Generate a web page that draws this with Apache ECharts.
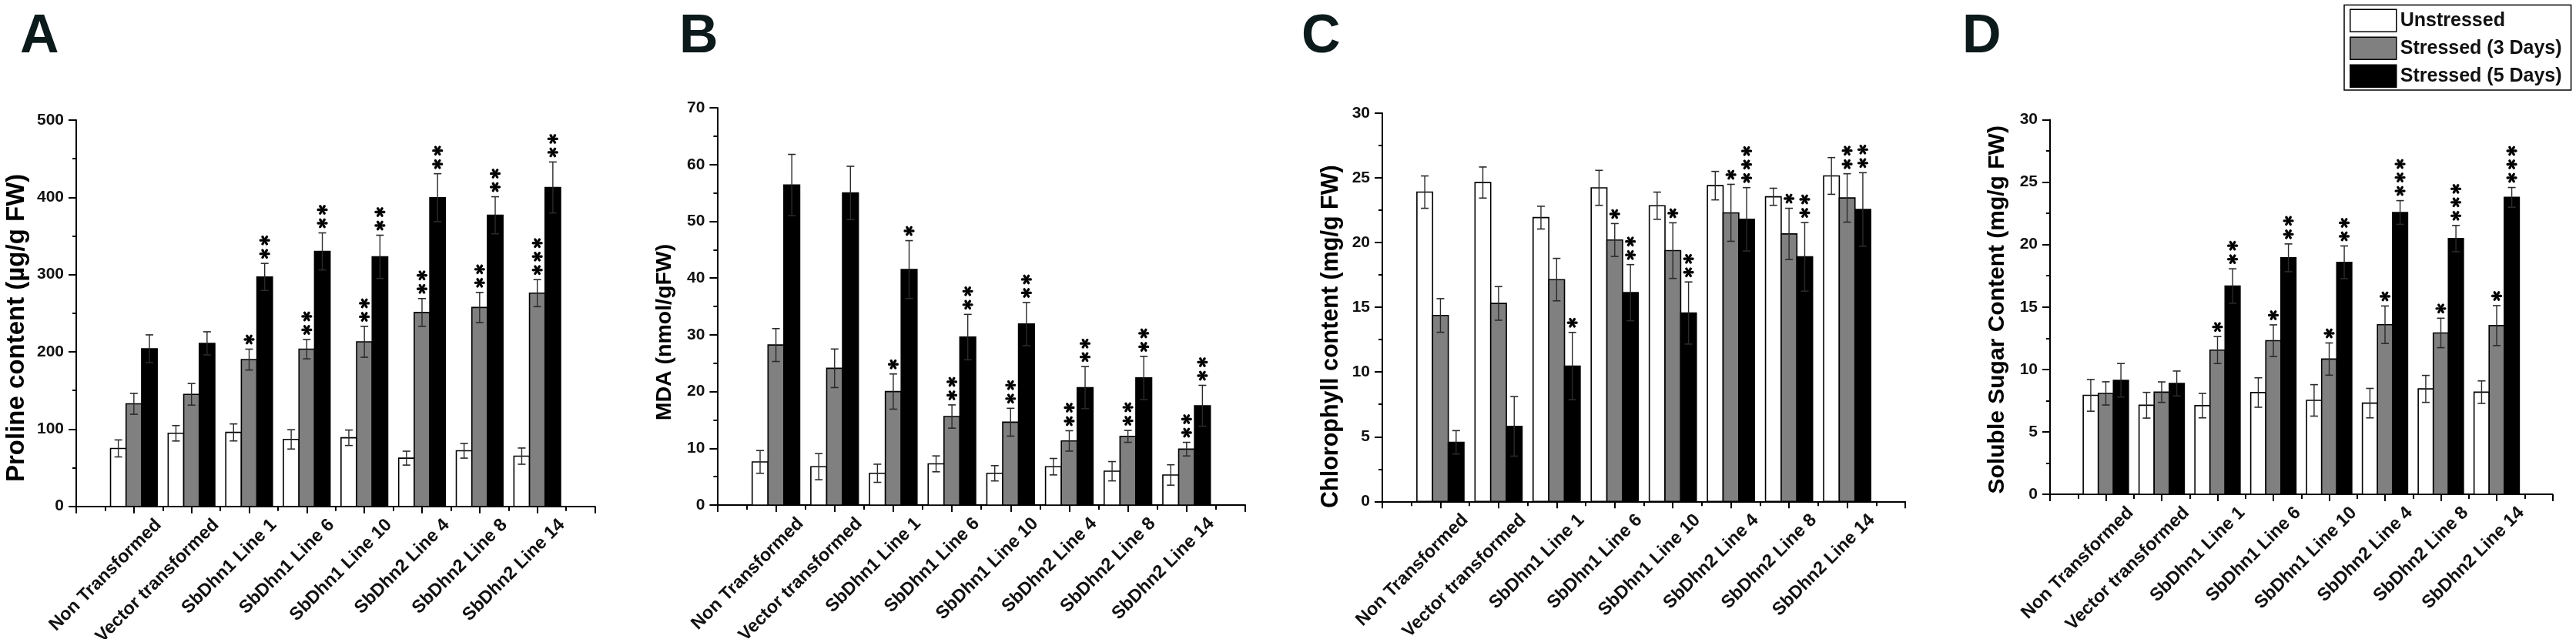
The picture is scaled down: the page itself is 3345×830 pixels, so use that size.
<!DOCTYPE html>
<html>
<head>
<meta charset="utf-8">
<script src="https://cdn.jsdelivr.net/npm/echarts@6/dist/echarts.min.js"></script>
<style>
html,body{margin:0;padding:0;background:#fff;}
#chart{width:3345px;height:830px;}
</style>
</head>
<body>
<div id="chart"></div>
<script>
// ---------------- DATA ----------------
const categories = ['Non Transformed','Vector transformed','SbDhn1 Line 1','SbDhn1 Line 6','SbDhn1 Line 10','SbDhn2 Line 4','SbDhn2 Line 8','SbDhn2 Line 14'];
const seriesNames = ['Unstressed','Stressed (3 Days)','Stressed (5 Days)'];

// Panel A: Proline content (µg/g FW)
const prolineUnstressed = [75, 94.6, 95.7, 86.7, 88.8, 62.4, 71.9, 65];
const prolineUnstressedErr = [11, 10, 11, 12.5, 10, 9, 9.5, 10.5];
const prolineStress3 = [132.7, 145, 190, 203.5, 213, 251, 257.4, 276];
const prolineStress3Err = [13.5, 14, 13.5, 12.5, 20, 18, 19.5, 17.5];
const prolineStress5 = [204, 211, 297, 330, 323, 399.6, 376.8, 412.8];
const prolineStress5Err = [18, 15, 17.5, 24, 28, 31, 24, 33];
const prolineStars3 = [0, 0, 1, 2, 2, 2, 2, 3];
const prolineStars5 = [0, 0, 2, 2, 2, 2, 2, 2];

// Panel B: MDA (nmol/g FW)
const mdaUnstressed = [7.6, 6.76, 5.6, 7.26, 5.6, 6.76, 5.96, 5.3];
const mdaUnstressedErr = [2.0, 2.3, 1.6, 1.4, 1.35, 1.45, 1.7, 1.8];
const mdaStress3 = [28.2, 24.1, 20.0, 15.6, 14.6, 11.3, 12.1, 9.85];
const mdaStress3Err = [2.9, 3.4, 3.1, 2.05, 2.45, 1.8, 1.05, 1.2];
const mdaStress5 = [56.4, 55.0, 41.5, 29.6, 31.9, 20.7, 22.4, 17.5];
const mdaStress5Err = [5.4, 4.7, 5.1, 4.0, 3.8, 3.7, 3.8, 3.6];
const mdaStars3 = [0, 0, 1, 2, 2, 2, 2, 2];
const mdaStars5 = [0, 0, 1, 2, 2, 2, 2, 2];

// Panel C: Chlorophyll content (mg/g FW)
const chlUnstressed = [23.9, 24.64, 21.93, 24.23, 22.85, 24.4, 23.54, 25.15];
const chlUnstressedErr = [1.25, 1.2, 0.88, 1.35, 1.05, 1.1, 0.66, 1.42];
const chlStress3 = [14.37, 15.3, 17.14, 20.2, 19.38, 22.3, 20.67, 23.45];
const chlStress3Err = [1.3, 1.3, 1.64, 1.27, 2.15, 2.2, 1.98, 1.87];
const chlStress5 = [4.57, 5.8, 10.46, 16.13, 14.56, 21.8, 18.9, 22.56];
const chlStress5Err = [0.9, 2.3, 2.6, 2.17, 2.4, 2.45, 2.65, 2.84];
const chlStars3 = [0, 0, 0, 1, 1, 1, 1, 2];
const chlStars5 = [0, 0, 1, 2, 2, 3, 2, 2];

// Panel D: Soluble Sugar Content (mg/g FW)
const sugarUnstressed = [7.92, 7.13, 7.1, 8.15, 7.52, 7.3, 8.44, 8.18];
const sugarUnstressedErr = [1.27, 1.03, 0.98, 1.18, 1.26, 1.18, 1.08, 0.9];
const sugarStress3 = [8.08, 8.18, 11.55, 12.3, 10.83, 13.58, 12.92, 13.51];
const sugarStress3Err = [0.93, 0.82, 1.08, 1.27, 1.29, 1.5, 1.18, 1.6];
const sugarStress5 = [9.13, 8.87, 16.68, 18.94, 18.58, 22.57, 20.48, 23.78];
const sugarStress5Err = [1.34, 1.0, 1.38, 1.11, 1.31, 0.95, 1.05, 0.79];
const sugarStars3 = [0, 0, 1, 1, 1, 1, 1, 1];
const sugarStars5 = [0, 0, 2, 2, 2, 3, 3, 3];

const noStars = [0, 0, 0, 0, 0, 0, 0, 0];

// axis scales
const yMax = [500, 70, 30, 30];
const yInterval = [100, 10, 5, 5];
const yTitles = ['Proline content (µg/g FW)', 'MDA (nmol/gFW)', 'Chlorophyll content (mg/g FW)', 'Soluble Sugar Content (mg/g FW)'];
const panelLetters = ['A', 'B', 'C', 'D'];

// ---------------- LAYOUT / STYLE ----------------
const FONT = '"Liberation Sans", Arial, Helvetica, sans-serif';
const layouts = [
  {left: 99,     right: 772.5,  top: 156,   bottom: 657.7, letterX: 26,   nameGap: 60.5, nameSize: 33,   namePad: 38},
  {left: 931.4,  right: 1617,   top: 140.1, bottom: 656,   letterX: 882,  nameGap: 54,   nameSize: 28.5, namePad: 67},
  {left: 1795,   right: 2474,   top: 147,   bottom: 651.3, letterX: 1690, nameGap: 51,   nameSize: 30.5, namePad: 76},
  {left: 2662,   right: 3314.5, top: 155.5, bottom: 642,   letterX: 2548, nameGap: 53,   nameSize: 30,   namePad: 7}
];
const BAR_W = 0.27;               // bar width in category units
const OFFSETS = [-0.27, 0, 0.27]; // group offsets in category units
const FILLS = ['#ffffff', '#808080', '#000000'];
const LABEL_DX = 32, LABEL_DY = 20.5, LABEL_SIZE = 23.5;

const panelData = [
  [[prolineUnstressed, prolineUnstressedErr, noStars], [prolineStress3, prolineStress3Err, prolineStars3], [prolineStress5, prolineStress5Err, prolineStars5]],
  [[mdaUnstressed, mdaUnstressedErr, noStars], [mdaStress3, mdaStress3Err, mdaStars3], [mdaStress5, mdaStress5Err, mdaStars5]],
  [[chlUnstressed, chlUnstressedErr, noStars], [chlStress3, chlStress3Err, chlStars3], [chlStress5, chlStress5Err, chlStars5]],
  [[sugarUnstressed, sugarUnstressedErr, noStars], [sugarStress3, sugarStress3Err, sugarStars3], [sugarStress5, sugarStress5Err, sugarStars5]]
];

function f(n) { return n.toFixed(2); }
function starPath(cx, cy, r) {
  let d = '';
  for (let k = 0; k < 6; k++) {
    const a = k * Math.PI / 3;
    const dx = Math.cos(a), dy = Math.sin(a), px = -dy, py = dx;
    const w = 0.3 * r;
    const p = (s, t) => f(cx + dx * s * r + px * t) + ' ' + f(cy + dy * s * r + py * t);
    d += 'M' + f(cx) + ' ' + f(cy) +
         ' C' + p(0.3, w) + ' ' + p(1.08, w) + ' ' + p(0.92, 0) +
         ' C' + p(1.08, -w) + ' ' + p(0.3, -w) + ' ' + f(cx) + ' ' + f(cy) + ' Z ';
  }
  return d;
}

function makeRender(cond) {
  return function (params, api) {
    const x = api.value(0) + OFFSETS[cond];
    const m = api.value(1), e = api.value(2), s = api.value(3);
    const top = api.coord([x, m]);
    const base = api.coord([x, 0]);
    const bw = api.size([BAR_W, 0])[0];
    const hi = api.coord([x, m + e]);
    const lo = api.coord([x, m - e]);
    const cap = 5;
    const children = [
      {type: 'rect', shape: {x: top[0] - bw / 2, y: top[1], width: bw, height: base[1] - top[1]},
       style: {fill: FILLS[cond], stroke: '#000', lineWidth: 1.6}},
      {type: 'line', shape: {x1: top[0], y1: lo[1], x2: top[0], y2: hi[1]}, style: {stroke: '#2a2a2a', lineWidth: 1.4}},
      {type: 'line', shape: {x1: top[0] - cap, y1: hi[1], x2: top[0] + cap, y2: hi[1]}, style: {stroke: '#2a2a2a', lineWidth: 1.6}},
      {type: 'line', shape: {x1: top[0] - cap, y1: lo[1], x2: top[0] + cap, y2: lo[1]}, style: {stroke: '#2a2a2a', lineWidth: 1.6}}
    ];
    for (let i = 0; i < s; i++) {
      children.push({type: 'path', shape: {pathData: starPath(top[0], hi[1] - 12.5 - i * 17.5, 7.5)}, style: {fill: '#000'}});
    }
    return {type: 'group', children: children};
  };
}

// category tick labels, rotated 45°, anchored at each category tick through the axis scale
function renderCategoryLabel(params, api) {
  const pos = api.coord([api.value(0), 0]);
  return {
    type: 'text',
    x: pos[0] + LABEL_DX, y: pos[1] + LABEL_DY, rotation: Math.PI / 4,
    style: {
      text: categories[params.dataIndex], align: 'right', verticalAlign: 'middle',
      fontSize: LABEL_SIZE, fontWeight: 'bold', fontFamily: FONT, fill: '#111'
    }
  };
}

const grids = [], xAxes = [], yAxes = [], series = [], titles = [];
layouts.forEach((L, p) => {
  grids.push({left: L.left, top: L.top, width: L.right - L.left, height: L.bottom - L.top,
              containLabel: false, outerBoundsMode: 'none'});
  xAxes.push({
    type: 'value', gridIndex: p, min: 0, max: categories.length + 1, interval: 1,
    axisLine: {show: true, onZero: false, lineStyle: {color: '#000', width: 2}},
    axisTick: {show: true, length: 9, lineStyle: {color: '#000', width: 2}},
    minorTick: {show: true, splitNumber: 2, length: 6, lineStyle: {color: '#000', width: 2}},
    splitLine: {show: false}, minorSplitLine: {show: false},
    axisLabel: {show: false}
  });
  yAxes.push({
    type: 'value', gridIndex: p, min: 0, max: yMax[p], interval: yInterval[p],
    axisLine: {show: true, lineStyle: {color: '#000', width: 2}},
    axisTick: {show: true, length: 10, lineStyle: {color: '#000', width: 2}},
    minorTick: {show: true, splitNumber: 2, length: 5, lineStyle: {color: '#000', width: 2}},
    splitLine: {show: false}, minorSplitLine: {show: false},
    axisLabel: {fontSize: 21, fontWeight: 'bold', color: '#111', margin: 16, fontFamily: FONT},
    name: yTitles[p], nameLocation: 'middle', nameRotate: 90, nameGap: L.nameGap,
    nameTextStyle: {fontSize: L.nameSize, fontWeight: 'bold', color: '#000', fontFamily: FONT, padding: [0, L.namePad, 0, 0]}
  });
  titles.push({text: panelLetters[p], left: L.letterX, top: 14, padding: 0,
    textStyle: {fontSize: 70, fontWeight: 'bold', color: '#0c1a1c', fontFamily: FONT}});
  panelData[p].forEach((cd, cond) => {
    const [means, errs, stars] = cd;
    series.push({
      type: 'custom', name: seriesNames[cond], xAxisIndex: p, yAxisIndex: p, clip: false,
      itemStyle: {color: FILLS[cond], borderColor: '#000', borderWidth: 1.5},
      renderItem: makeRender(cond),
      encode: {x: 0, y: 1},
      data: categories.map((c, i) => [i + 1, means[i], errs[i], stars[i]])
    });
  });
  series.push({
    type: 'custom', name: 'category labels', xAxisIndex: p, yAxisIndex: p, clip: false, silent: true,
    renderItem: renderCategoryLabel, encode: {x: 0},
    data: categories.map((c, i) => [i + 1])
  });
});

const chart = echarts.init(document.getElementById('chart'), null, {renderer: 'canvas'});
chart.setOption({
  animation: false,
  backgroundColor: '#fff',
  title: titles,
  grid: grids,
  xAxis: xAxes,
  yAxis: yAxes,
  legend: {
    orient: 'vertical', left: 3044, top: 6.4,
    icon: 'rect', itemWidth: 60, itemHeight: 29, itemGap: 5.5,
    padding: [5, 12, 3, 7],
    borderColor: '#000', borderWidth: 1.5, backgroundColor: '#fff',
    textStyle: {fontSize: 25, fontWeight: 'bold', color: '#111', fontFamily: FONT},
    data: seriesNames.map((n, i) => ({name: n, itemStyle: {color: FILLS[i], borderColor: '#000', borderWidth: 1.5}}))
  },
  series: series
});
</script>
</body>
</html>
